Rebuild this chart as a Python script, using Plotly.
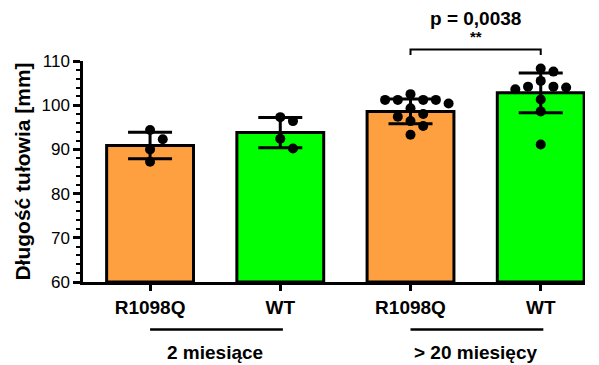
import plotly.graph_objects as go

categories = ["R1098Q", "WT", "R1098Q", "WT"]
group_labels = ["2 miesiące", "> 20 miesięcy"]
means = [90.9, 93.8, 98.6, 102.8]
sds = [3.0, 3.4, 2.8, 4.5]
points = [
    [94.4, 92.3, 90.0, 87.2],
    [97.3, 96.4, 92.4, 90.2],
    [102.5, 101.2, 101.2, 101.2, 101.2, 100.4, 99.3, 98.0, 97.4, 96.4, 95.3, 93.3],
    [108.3, 107.6, 105.5, 104.2, 103.6, 104.2, 104.0, 101.3, 98.6, 91.1],
]
bar_colors = ["#FFA040", "#00FF00", "#FFA040", "#00FF00"]
p_text = "p = 0,0038"
stars = "**"
y_title = "Długość tułowia [mm]"

FONT = "Arial, Liberation Sans, sans-serif"
W, H = 599, 365
ML, MR, MT, MB = 83, 14, 61, 83
XR = [-0.515, 3.34]
YR = [60, 110]
px_per_x = (W - ML - MR) / (XR[1] - XR[0])
px_per_y = (H - MT - MB) / (YR[1] - YR[0])


def beeswarm(vals, diam=10.0, step=12.7):
    placed = []
    offs = [0.0] * len(vals)
    order = sorted(range(len(vals)), key=lambda i: -vals[i])
    for i in order:
        yp = vals[i] * px_per_y
        cands = [0]
        for n in range(1, 10):
            cands += [n, -n]
        for c in cands:
            xp = c * step
            ok = all((xp - a) ** 2 + (yp - b) ** 2 >= diam ** 2 for a, b in placed)
            if ok:
                placed.append((xp, yp))
                offs[i] = xp / px_per_x
                break
    return offs


xs = list(range(len(categories)))
fig = go.Figure()
fig.add_trace(go.Bar(
    x=xs, y=[m - YR[0] for m in means], base=YR[0], width=0.667,
    marker=dict(color=bar_colors, line=dict(color="black", width=3)),
    error_y=dict(type="data", array=sds, color="black", thickness=3, width=22),
    showlegend=False,
))
for i, vals in enumerate(points):
    offs = beeswarm(vals)
    fig.add_trace(go.Scatter(
        x=[i + o for o in offs], y=vals, mode="markers",
        marker=dict(color="black", size=10), showlegend=False, cliponaxis=False,
    ))

def py2paper(py):
    return (H - MB - py) / (H - MT - MB)

shapes = []
anns = []
for g, lab in enumerate(group_labels):
    x0, x1 = 2 * g, 2 * g + 1
    shapes.append(dict(type="line", xref="x", yref="paper", x0=x0, x1=x1 + 0.02,
                       y0=py2paper(329.5), y1=py2paper(329.5),
                       line=dict(color="black", width=2.5)))
    anns.append(dict(text="<b>%s</b>" % lab, xref="x", yref="paper", x=(x0 + x1) / 2,
                     y=py2paper(352), showarrow=False, yanchor="middle",
                     font=dict(family=FONT, size=19, color="black")))
# significance bracket
yb = py2paper(49.5)
yb2 = py2paper(55)
shapes.append(dict(type="path", xref="x", yref="paper",
                   path="M 2,%f L 2,%f L 3,%f L 3,%f" % (yb2, yb, yb, yb2),
                   line=dict(color="black", width=2)))
anns.append(dict(text="<b>%s</b>" % stars, xref="x", yref="paper", x=2.5, y=py2paper(37),
                 showarrow=False, yanchor="middle", font=dict(family=FONT, size=15, color="black")))
anns.append(dict(text="<b>%s</b>" % p_text, xref="x", yref="paper", x=2.5, y=py2paper(18),
                 showarrow=False, yanchor="middle", font=dict(family=FONT, size=19, color="black")))

fig.update_layout(
    width=W, height=H, margin=dict(l=ML, r=MR, t=MT, b=MB),
    plot_bgcolor="white", paper_bgcolor="white",
    shapes=shapes, annotations=anns,
    font=dict(family=FONT, color="black"),
    xaxis=dict(range=XR, tickmode="array", tickvals=xs,
               ticktext=["<b>%s</b>" % c for c in categories],
               showline=True, linecolor="black", linewidth=2.5, ticks="outside",
               ticklen=6, tickwidth=2.5, tickcolor="black", showgrid=False, zeroline=False,
               tickfont=dict(family=FONT, size=19, color="black"), fixedrange=True),
    yaxis=dict(range=YR, tickmode="linear", tick0=60, dtick=10,
               showline=True, linecolor="black", linewidth=2.5, ticks="outside",
               ticklen=7, tickwidth=2.5, tickcolor="black", showgrid=False, zeroline=False,
               tickfont=dict(family=FONT, size=17, color="black"),
               minor=dict(dtick=2, ticks="outside", ticklen=4, tickwidth=2, tickcolor="black"),
               title=dict(text="<b>%s</b>" % y_title, font=dict(family=FONT, size=21, color="black"),
                          standoff=6)),
)
fig.write_html("out.html")
